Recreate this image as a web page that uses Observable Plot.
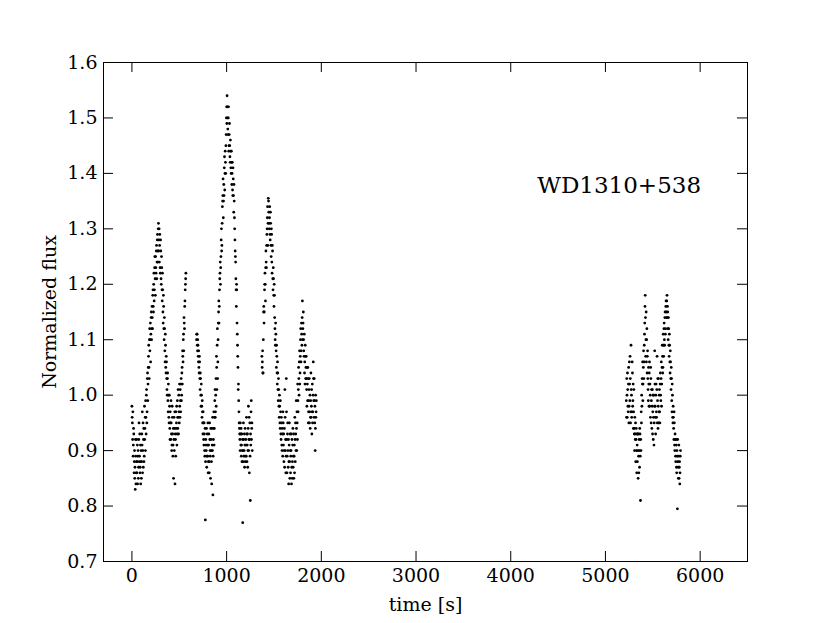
<!DOCTYPE html>
<html><head><meta charset="utf-8">
<script src="https://cdn.jsdelivr.net/npm/d3@7"></script>
<script src="https://cdn.jsdelivr.net/npm/@observablehq/plot@0.6"></script>
<style>
html,body{margin:0;padding:0;background:#fff;}
</style>
</head><body><div id="chart"></div>
<script>
const xTicks = [0, 1000, 2000, 3000, 4000, 5000, 6000];
const yTicks = [0.7, 0.8, 0.9, 1.0, 1.1, 1.2, 1.3, 1.4, 1.5, 1.6];
const targetName = "WD1310+538";
const xLabel = "time [s]";
const yLabel = "Normalized flux";

// [time (s), normalized flux] — first observing block
const segment1 = [
[0,0.98],[5,0.95],[10,0.97],[15,0.91],[20,0.93],[25,0.88],[30,0.85],[35,0.83],[40,0.89],[45,0.86],[50,0.92],[55,0.88],[60,0.84],[65,0.90],[70,0.87],[75,0.95],[80,0.89],[85,0.86],[90,0.91],[95,0.88],[100,0.85],[105,0.93],[110,0.97],[115,0.90],[120,0.87],[125,0.94],[130,0.89],[135,0.92],[140,0.96],
[145,0.99],[150,0.93],[155,1.01],[160,0.97],[165,1.04],[170,1.02],[175,1.07],[180,1.05],[185,1.10],[190,1.08],[195,1.13],[200,1.11],[205,1.15],[210,1.12],[215,1.14],[220,1.18],[225,1.16],[230,1.20],[235,1.17],[240,1.23],[245,1.21],[250,1.25],[255,1.22],[260,1.27],[265,1.24],[270,1.29],[275,1.26],[280,1.31],
[285,1.28],[290,1.24],[295,1.29],[300,1.22],[305,1.26],[310,1.20],[315,1.23],[320,1.17],[325,1.19],[330,1.13],[335,1.16],[340,1.10],[345,1.12],[350,1.06],[355,1.09],[360,1.04],[365,1.06],[370,1.01],[375,1.03],[380,0.99],[385,1.02],[390,0.96],[395,1.00],[400,0.94],
[405,0.97],[410,0.92],[415,0.95],[420,0.90],[425,0.98],[430,0.93],[435,0.91],[440,0.85],[445,0.96],[450,0.94],[455,0.84],[460,0.92],[465,0.97],[470,0.95],[475,0.91],[480,0.99],[485,0.94],[490,0.96],[495,1.00],[500,0.95],[505,0.98],[510,1.01],[515,0.97],
[520,1.03],[525,1.00],[530,1.05],[535,1.08],[540,1.06],[545,1.11],[550,1.14],[555,1.12],[560,1.17],[565,1.20],[570,1.22],
[685,1.11],[690,1.09],[695,1.10],[700,1.07],[705,1.08],[710,1.04],[715,1.06],[720,1.01],[725,1.03],[730,0.98],[735,1.00],[740,0.96],[745,0.97],[750,0.93],[755,0.95],[760,0.91],[765,0.93],[770,0.89],[775,0.775],[780,0.92],
[785,0.90],[790,0.87],[795,0.93],[800,0.89],[805,0.86],[810,0.91],[815,0.88],[820,0.95],[825,0.90],[830,0.85],[835,0.92],[840,0.88],[845,0.94],[850,0.90],[855,0.82],[860,0.92],[865,0.97],[870,0.94],[875,0.99],[880,0.96],
[885,1.00],[890,0.98],[895,1.05],[900,1.09],[905,1.03],[910,1.10],[915,1.15],[920,1.13],[925,1.19],[930,1.22],[935,1.20],[940,1.25],[945,1.30],[950,1.27],[955,1.34],[960,1.36],[965,1.32],[970,1.38],[975,1.41],[980,1.37],[985,1.44],[990,1.40],[995,1.47],[1000,1.52],[1005,1.54],
[1010,1.50],[1015,1.47],[1020,1.52],[1025,1.45],[1030,1.49],[1035,1.43],[1040,1.46],[1045,1.41],[1050,1.44],[1055,1.38],[1060,1.42],[1065,1.36],[1070,1.39],[1075,1.33],[1080,1.35],
[1085,1.30],[1090,1.26],[1095,1.24],[1100,1.19],[1105,1.20],[1110,1.13],[1115,1.09],[1120,1.05],[1125,1.02],[1130,0.97],[1135,0.94],[1140,0.92],[1145,0.95],[1150,0.91],
[1155,0.89],[1160,0.93],[1165,0.90],[1170,0.77],[1175,0.88],[1180,0.92],[1185,0.90],[1190,0.87],[1195,0.94],[1200,0.89],[1205,0.91],[1210,0.96],[1215,0.88],[1220,0.93],[1225,0.90],[1230,0.98],[1235,0.92],[1240,0.86],[1245,0.95],[1250,0.81],[1255,0.91],[1260,0.99],[1265,0.94],[1270,0.90],
[1375,1.05],[1380,1.08],[1385,1.04],[1390,1.15],[1395,1.13],[1400,1.19],[1405,1.22],[1410,1.17],[1415,1.26],[1420,1.23],[1425,1.29],[1430,1.32],[1435,1.27],[1440,1.355],
[1445,1.33],[1450,1.30],[1455,1.34],[1460,1.28],[1465,1.31],[1470,1.25],[1475,1.29],[1480,1.22],[1485,1.26],[1490,1.19],[1495,1.21],[1500,1.16],
[1505,1.18],[1510,1.12],[1515,1.09],[1520,1.11],[1525,1.05],[1530,1.07],[1535,1.02],[1540,1.04],[1545,0.99],[1550,1.01],[1555,0.96],[1560,0.98],[1565,0.94],[1570,0.97],[1575,0.92],[1580,0.95],[1585,0.90],[1590,0.93],[1595,0.97],[1600,0.91],
[1605,0.88],[1610,0.94],[1615,1.01],[1620,0.90],[1625,0.86],[1630,1.03],[1635,0.92],[1640,0.89],[1645,0.95],[1650,0.87],[1655,0.84],[1660,0.91],[1665,0.88],[1670,0.93],[1675,0.86],[1680,0.90],[1685,0.84],[1690,0.92],[1695,0.88],[1700,0.94],[1705,0.89],[1710,0.85],[1715,0.91],[1720,0.96],[1725,0.88],[1730,0.93],[1735,0.99],[1740,0.90],[1745,0.95],[1750,1.02],[1755,0.97],[1760,1.05],
[1765,1.00],[1770,1.08],[1775,1.04],[1780,1.10],[1785,1.06],[1790,1.13],[1795,1.09],[1800,1.17],[1805,1.12],[1810,1.15],[1815,1.08],[1820,1.11],
[1825,1.06],[1830,1.09],[1835,1.03],[1840,1.07],[1845,1.01],[1850,1.05],[1855,0.99],[1860,1.03],[1865,0.97],[1870,1.01],[1875,0.95],[1880,1.00],[1885,0.96],[1890,1.04],[1895,0.98],[1900,0.93],[1905,1.02],[1910,0.97],[1915,1.06],[1920,0.99],[1925,1.03],[1930,0.95],[1935,0.90],[1940,1.00],[1945,0.97]
];

// [time (s), normalized flux] — first block, alternate exposures
const segment1b = [
[2.5,0.96],[7.5,0.92],[12.5,0.89],[17.5,0.94],[22.5,0.86],[27.5,0.90],[32.5,0.87],[37.5,0.92],[42.5,0.84],[47.5,0.88],[52.5,0.86],[57.5,0.91],[62.5,0.89],[67.5,0.85],[72.5,0.92],[77.5,0.88],[82.5,0.93],[87.5,0.87],[92.5,0.84],[97.5,0.90],[102.5,0.88],[107.5,0.91],[112.5,0.86],[117.5,0.95],[122.5,0.92],[127.5,0.88],[132.5,0.98],[137.5,0.94],[142.5,0.90],
[147.5,0.96],[152.5,1.00],[157.5,0.95],[162.5,1.03],[167.5,0.99],[172.5,1.05],[177.5,1.09],[182.5,1.03],[187.5,1.12],[192.5,1.10],[197.5,1.06],[202.5,1.14],[207.5,1.10],[212.5,1.16],[217.5,1.12],[222.5,1.19],[227.5,1.15],[232.5,1.22],[237.5,1.19],[242.5,1.25],[247.5,1.18],[252.5,1.23],[257.5,1.26],[262.5,1.21],[267.5,1.28],[272.5,1.24],[277.5,1.30],
[282.5,1.26],[287.5,1.30],[292.5,1.27],[297.5,1.23],[302.5,1.28],[307.5,1.21],[312.5,1.25],[317.5,1.19],[322.5,1.22],[327.5,1.15],[332.5,1.18],[337.5,1.12],[342.5,1.14],[347.5,1.08],[352.5,1.11],[357.5,1.05],[362.5,1.07],[367.5,1.03],[372.5,1.00],[377.5,1.04],[382.5,0.97],[387.5,1.00],[392.5,0.95],[397.5,0.98],
[402.5,0.92],[407.5,0.95],[412.5,0.99],[417.5,0.93],[422.5,0.91],[427.5,0.96],[432.5,0.89],[437.5,0.94],[442.5,0.92],[447.5,0.90],[452.5,0.97],[457.5,0.93],[462.5,0.89],[467.5,0.94],[472.5,0.98],[477.5,0.93],[482.5,0.96],[487.5,1.01],[492.5,0.93],[497.5,0.97],[502.5,1.02],[507.5,0.96],[512.5,0.99],[517.5,1.02],
[522.5,0.99],[527.5,1.04],[532.5,1.02],[537.5,1.07],[542.5,1.10],[547.5,1.08],[552.5,1.13],[557.5,1.16],[562.5,1.19],[567.5,1.21],
[682.5,1.10],[687.5,1.11],[692.5,1.08],[697.5,1.09],[702.5,1.06],[707.5,1.05],[712.5,1.07],[717.5,1.03],[722.5,1.04],[727.5,1.00],[732.5,1.02],[737.5,0.98],[742.5,0.99],[747.5,0.95],[752.5,0.97],[757.5,0.92],[762.5,0.95],[767.5,0.90],[772.5,0.94],[777.5,0.88],
[782.5,0.91],[787.5,0.94],[792.5,0.89],[797.5,0.91],[802.5,0.95],[807.5,0.88],[812.5,0.93],[817.5,0.86],[822.5,0.92],[827.5,0.89],[832.5,0.94],[837.5,0.90],[842.5,0.84],[847.5,0.91],[852.5,0.96],[857.5,0.89],[862.5,0.94],[867.5,0.91],[872.5,0.96],[877.5,1.01],
[882.5,0.97],[887.5,1.03],[892.5,1.07],[897.5,1.01],[902.5,1.12],[907.5,1.06],[912.5,1.13],[917.5,1.17],[922.5,1.16],[927.5,1.21],[932.5,1.24],[937.5,1.23],[942.5,1.28],[947.5,1.26],[952.5,1.31],[957.5,1.35],[962.5,1.39],[967.5,1.35],[972.5,1.36],[977.5,1.43],[982.5,1.40],[987.5,1.42],[992.5,1.45],[997.5,1.50],[1002.5,1.49],
[1007.5,1.52],[1012.5,1.48],[1017.5,1.50],[1022.5,1.44],[1027.5,1.47],[1032.5,1.45],[1037.5,1.42],[1042.5,1.44],[1047.5,1.40],[1052.5,1.42],[1057.5,1.40],[1062.5,1.37],[1067.5,1.41],[1072.5,1.36],[1077.5,1.38],
[1082.5,1.32],[1087.5,1.28],[1092.5,1.25],[1097.5,1.21],[1102.5,1.16],[1107.5,1.19],[1112.5,1.11],[1117.5,1.07],[1122.5,1.01],[1127.5,0.99],[1132.5,0.95],[1137.5,0.93],[1142.5,0.90],[1147.5,0.93],
[1152.5,0.94],[1157.5,0.91],[1162.5,0.88],[1167.5,0.92],[1172.5,0.90],[1177.5,0.95],[1182.5,0.89],[1187.5,0.93],[1192.5,0.91],[1197.5,0.88],[1202.5,0.92],[1207.5,0.89],[1212.5,0.93],[1217.5,0.91],[1222.5,0.87],[1227.5,0.94],[1232.5,0.90],[1237.5,0.96],[1242.5,0.92],[1247.5,0.89],[1252.5,0.93],[1257.5,0.97],[1262.5,0.92],[1267.5,0.95],
[1372.5,1.07],[1377.5,1.06],[1382.5,1.04],[1387.5,1.10],[1392.5,1.16],[1397.5,1.15],[1402.5,1.20],[1407.5,1.20],[1412.5,1.23],[1417.5,1.24],[1422.5,1.27],[1427.5,1.30],[1432.5,1.34],[1437.5,1.31],
[1442.5,1.35],[1447.5,1.31],[1452.5,1.32],[1457.5,1.29],[1462.5,1.33],[1467.5,1.27],[1472.5,1.30],[1477.5,1.24],[1482.5,1.27],[1487.5,1.21],[1492.5,1.23],[1497.5,1.18],[1502.5,1.20],
[1507.5,1.14],[1512.5,1.10],[1517.5,1.13],[1522.5,1.08],[1527.5,1.09],[1532.5,1.04],[1537.5,1.06],[1542.5,1.01],[1547.5,1.03],[1552.5,0.98],[1557.5,1.00],[1562.5,0.95],[1567.5,0.99],[1572.5,0.93],[1577.5,0.96],[1582.5,0.91],[1587.5,0.94],[1592.5,0.89],[1597.5,0.95],
[1602.5,0.93],[1607.5,0.90],[1612.5,0.87],[1617.5,0.96],[1622.5,0.92],[1627.5,0.89],[1632.5,0.97],[1637.5,0.86],[1642.5,0.93],[1647.5,0.90],[1652.5,0.92],[1657.5,0.88],[1662.5,0.95],[1667.5,0.85],[1672.5,0.90],[1677.5,0.89],[1682.5,0.93],[1687.5,0.87],[1692.5,0.85],[1697.5,0.91],[1702.5,0.87],[1707.5,0.93],[1712.5,0.89],[1717.5,0.86],[1722.5,0.92],[1727.5,0.95],[1732.5,0.90],[1737.5,0.94],[1742.5,0.97],[1747.5,0.92],[1752.5,0.99],[1757.5,1.01],
[1762.5,1.03],[1767.5,1.06],[1772.5,1.02],[1777.5,1.07],[1782.5,1.12],[1787.5,1.08],[1792.5,1.11],[1797.5,1.14],[1802.5,1.10],[1807.5,1.13],[1812.5,1.10],[1817.5,1.07],
[1822.5,1.04],[1827.5,1.02],[1832.5,1.07],[1837.5,1.05],[1842.5,1.03],[1847.5,0.98],[1852.5,1.02],[1857.5,1.05],[1862.5,0.95],[1867.5,0.99],[1872.5,1.03],[1877.5,0.97],[1882.5,0.94],[1887.5,0.99],[1892.5,0.96],[1897.5,1.01],[1902.5,0.97],[1907.5,0.95],[1912.5,1.00],[1917.5,1.03],[1922.5,0.96],[1927.5,0.99],[1932.5,0.98],[1937.5,0.94],[1942.5,0.96],[1947.5,0.99]
];

// [time (s), normalized flux] — second observing block
const segment2 = [
[5220,0.99],[5225,1.03],[5230,0.96],[5235,1.01],[5240,0.97],[5245,1.05],[5250,0.98],[5255,1.02],[5260,1.07],[5265,0.95],[5270,1.09],[5275,1.00],[5280,0.97],[5285,1.04],[5290,0.99],[5295,0.94],[5300,1.01],
[5305,0.93],[5310,0.96],[5315,0.92],[5320,0.88],[5325,0.94],[5330,0.86],[5335,0.91],[5340,0.93],[5345,0.85],[5350,0.89],[5355,0.92],[5360,0.87],[5365,0.93],[5370,0.81],[5375,0.90],[5380,0.95],
[5385,0.98],[5390,1.02],[5395,0.99],[5400,1.05],[5405,1.03],[5410,1.09],[5415,1.13],[5420,1.18],[5425,1.07],[5430,1.15],[5435,1.10],[5440,1.04],[5445,1.08],[5450,1.01],
[5455,1.05],[5460,0.98],[5465,1.06],[5470,1.02],[5475,0.96],[5480,1.03],[5485,0.99],[5490,0.94],[5495,1.01],[5500,0.97],[5505,0.92],[5510,1.00],[5515,0.95],[5520,1.08],[5525,0.98],[5530,0.93],[5535,1.02],[5540,0.96],[5545,1.07],[5550,0.99],[5555,0.94],[5560,1.03],[5565,0.97],[5570,1.01],[5575,0.95],[5580,1.04],[5585,0.99],[5590,1.06],[5595,1.02],[5600,1.09],
[5605,1.04],[5610,1.11],[5615,1.07],[5620,1.13],[5625,1.09],[5630,1.15],[5635,1.12],[5640,1.17],[5645,1.14],[5650,1.18],[5655,1.16],[5660,1.12],
[5665,1.14],[5670,1.09],[5675,1.11],[5680,1.06],[5685,1.08],[5690,1.03],[5695,1.05],[5700,0.99],[5705,1.02],[5710,0.96],[5715,0.98],[5720,0.94],[5725,0.97],[5730,0.91],[5735,0.93],[5740,0.89],[5745,0.92],[5750,0.87],[5755,0.90],[5760,0.795],[5765,0.88],[5770,0.85],[5775,0.91],[5780,0.87],[5785,0.84],[5790,0.89]
];

// [time (s), normalized flux] — second block, alternate exposures
const segment2b = [
[5222.5,0.96],[5227.5,1.00],[5232.5,1.04],[5237.5,0.98],[5242.5,1.02],[5247.5,0.95],[5252.5,1.06],[5257.5,0.99],[5262.5,1.03],[5267.5,0.97],[5272.5,1.01],[5277.5,0.96],[5282.5,1.06],[5287.5,0.98],[5292.5,1.02],[5297.5,0.97],[5302.5,0.94],
[5307.5,0.90],[5312.5,0.93],[5317.5,0.95],[5322.5,0.92],[5327.5,0.90],[5332.5,0.93],[5337.5,0.88],[5342.5,0.90],[5347.5,0.93],[5352.5,0.86],[5357.5,0.90],[5362.5,0.94],[5367.5,0.89],[5372.5,0.92],[5377.5,0.97],
[5382.5,1.00],[5387.5,1.03],[5392.5,1.06],[5397.5,1.02],[5402.5,1.08],[5407.5,1.06],[5412.5,1.11],[5417.5,1.16],[5422.5,1.14],[5427.5,1.10],[5432.5,1.06],[5437.5,1.12],[5442.5,1.07],[5447.5,1.03],
[5452.5,0.99],[5457.5,1.02],[5462.5,1.04],[5467.5,0.98],[5472.5,1.00],[5477.5,1.05],[5482.5,0.95],[5487.5,1.01],[5492.5,0.98],[5497.5,0.93],[5502.5,1.00],[5507.5,0.96],[5512.5,0.91],[5517.5,0.98],[5522.5,1.02],[5527.5,0.96],[5532.5,1.00],[5537.5,0.97],[5542.5,1.01],[5547.5,0.95],[5552.5,1.03],[5557.5,0.98],[5562.5,0.95],[5567.5,1.00],[5572.5,0.97],[5577.5,1.02],[5582.5,1.00],[5587.5,1.03],[5592.5,0.98],[5597.5,1.05],
[5602.5,1.07],[5607.5,1.05],[5612.5,1.09],[5617.5,1.12],[5622.5,1.10],[5627.5,1.14],[5632.5,1.11],[5637.5,1.16],[5642.5,1.15],[5647.5,1.17],[5652.5,1.14],[5657.5,1.15],
[5662.5,1.10],[5667.5,1.12],[5672.5,1.07],[5677.5,1.09],[5682.5,1.04],[5687.5,1.06],[5692.5,1.01],[5697.5,1.03],[5702.5,0.97],[5707.5,1.00],[5712.5,0.95],[5717.5,0.96],[5722.5,0.92],[5727.5,0.95],[5732.5,0.90],[5737.5,0.92],[5742.5,0.88],[5747.5,0.91],[5752.5,0.86],[5757.5,0.89],[5762.5,0.92],[5767.5,0.87],[5772.5,0.89],[5777.5,0.85],[5782.5,0.88],[5787.5,0.86],[5792.5,0.90]
];

const rows = [...segment1, ...segment1b, ...segment2, ...segment2b].map(([time, flux]) => ({time, flux}));

const W = 830, H = 623, mL = 103, mR = 83, mT = 62, mB = 62;
const tickLen = 10;
const frameW = W - mL - mR, frameH = H - mT - mB;

const chart = Plot.plot({
  width: W, height: H,
  marginLeft: mL, marginRight: mR, marginTop: mT, marginBottom: mB,
  style: {fontFamily: "'DejaVu Serif', serif", fontSize: "19px", background: "white", color: "black", overflow: "visible"},
  x: {domain: [-300, 6500]},
  y: {domain: [0.7, 1.6]},
  marks: [
    Plot.dot(rows, {x: "time", y: "flux", r: 1.4, fill: "black", stroke: null}),
    Plot.tickX(xTicks, {x: d => d, insetTop: frameH - tickLen, stroke: "black"}),
    Plot.tickX(xTicks, {x: d => d, insetBottom: frameH - tickLen, stroke: "black"}),
    Plot.tickY(yTicks, {y: d => d, insetRight: frameW - tickLen, stroke: "black"}),
    Plot.tickY(yTicks, {y: d => d, insetLeft: frameW - tickLen, stroke: "black"}),
    Plot.axisX(xTicks, {tickSize: 0, tickPadding: 7, fontSize: 19, tickFormat: d3.format("d"),
      label: xLabel, labelAnchor: "center", labelArrow: "none", labelOffset: 49}),
    Plot.axisY(yTicks, {tickSize: 0, tickPadding: 6, fontSize: 19, tickFormat: d3.format(".1f"),
      label: yLabel, labelAnchor: "center", labelArrow: "none", labelOffset: 61}),
    Plot.frame({stroke: "black", strokeWidth: 1}),
    Plot.text([targetName], {x: 4280, y: 1.378, text: d => d, textAnchor: "start", lineAnchor: "middle", fontSize: 23, fill: "black"})
  ]
});
document.getElementById("chart").appendChild(chart);
</script>
</body></html>
